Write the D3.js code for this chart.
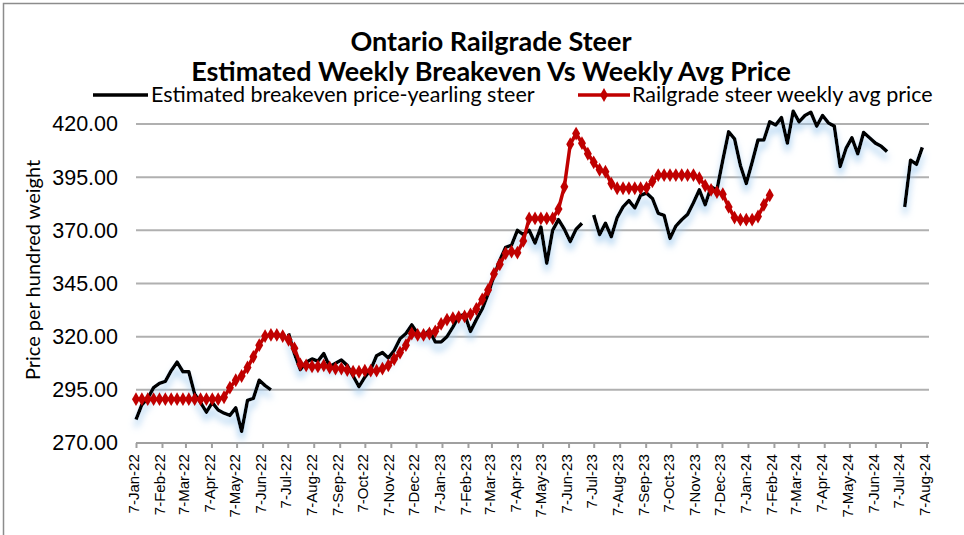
<!DOCTYPE html>
<html>
<head>
<meta charset="utf-8">
<script src="https://cdn.jsdelivr.net/npm/d3@7"></script>
<style>
  body { margin: 0; background: #fff; }
  svg { font-family: Lato, "Open Sans", sans-serif; }
  .grid line { stroke: #b0b0b0; stroke-width: 2; }
  .ylab text { font-size: 21.5px; fill: #000; }
  .xaxis text { font-size: 15px; fill: #000; }
  .xaxis path, .xaxis line { stroke: #a0a0a0; stroke-width: 2; }
</style>
</head>
<body>
<svg id="chart" width="964" height="535"></svg>
<script>
// weekly series, first week = 7-Jan-22
const firstWeek = new Date(2022, 0, 7);

// Estimated breakeven price - yearling steer (null = no value)
const breakeven = [
  281, 288, 291, 296, 298, 299, 304, 308, 303.5, 303.5,
  293, 289, 284.5, 289, 285.5, 284, 283, 286.5, 275.5, 290,
  291, 299.5, 297, 295, null, null, 321.5, 312, 304.5, 308,
  309.5, 308.5, 312, 306, 307.5, 309, 306.5, 301.5, 296.5, 301,
  304.5, 311, 312.5, 310, 313.5, 319, 321.5, 325.5, 321.5, 320.5,
  323, 317.5, 317.5, 320, 324.5, 329.5, 330.5, 322.5, 328, 333,
  340, 348.5, 356, 362, 363, 370, 368, 370, 364, 371.5,
  354.5, 370, 375, 370.5, 364.7, 370.5, 373.3, null, 377.2, 368,
  373.3, 367, 376, 381, 384, 380.5, 386.5, 387.5, 385, 378,
  377, 366.2, 372, 375, 377.5, 383, 389, 382, 390.5, 389,
  403, 416.3, 413, 400.5, 392, 402, 412.5, 412.5, 421, 419.5,
  423, 411, 426, 421, 424, 425.5, 419, 424, 420.5, 419,
  400, 408.5, 413.5, 406, 416, 413.5, 411, 409.5, 407, null,
  null, 381, 403, 401, 409
];

// Railgrade steer weekly avg price
const weeklyAvg = [
  290.6, 290.6, 290.6, 290.6, 290.6, 290.6, 290.6, 290.6, 290.6, 290.6,
  290.6, 290.6, 290.6, 290.6, 290.6, 291.5, 296, 299.5, 301.5, 305.5,
  310.5, 316, 320.3, 320.8, 320.8, 320.3, 318.5, 314.5, 307, 306.5,
  306, 306, 306.5, 305.5, 305, 305, 304.3, 303.5, 303.5, 304,
  304, 304, 305, 306.5, 309.5, 312.5, 316, 321.5, 320.8, 320.8,
  321.5, 322.5, 326, 328, 328.7, 329.2, 329.5, 330.5, 333, 337.5,
  342, 349.5, 354, 359.2, 360, 359.5, 365, 375.6, 375.6, 375.6,
  375.6, 375.6, 380, 390.5, 410.5, 415.5, 411, 406, 402, 398.5,
  397.6, 392, 389.8, 389.8, 389.8, 389.8, 389.8, 390, 393, 396,
  396, 396, 396, 396, 396, 396, 394.5, 391, 389, 388,
  387, 381, 376, 375, 375, 375, 376.5, 382, 386.5
];

const yTicks = [270, 295, 320, 345, 370, 395, 420];
const titleLines = ["Ontario Railgrade Steer", "Estimated Weekly Breakeven Vs Weekly Avg Price"];
const seriesNames = ["Estimated breakeven price-yearling steer", "Railgrade steer weekly avg price"];
const yTitle = "Price per hundred weight";

const weekDate = i => d3.timeDay.offset(firstWeek, 7 * i);
const toPoints = arr => arr.map((v, i) => ({ date: weekDate(i), value: v }));
const blackData = toPoints(breakeven);
const redData = toPoints(weeklyAvg);

const svg = d3.select("#chart");

// outer frame
svg.append("rect")
    .attr("x", 3.5).attr("y", 3.5)
    .attr("width", 990).attr("height", 560)
    .attr("fill", "none")
    .attr("stroke", "#8c8c8c")
    .attr("stroke-width", 1.5);

// scales
let x = d3.scaleTime()
    .domain([new Date(2022, 0, 7), new Date(2024, 7, 7)])
    .range([136, 926.5]);
let y = d3.scaleLinear()
    .domain([270, 420])
    .range([443, 124]);

// gridlines
svg.append("g")
    .attr("class", "grid")
    .selectAll("line")
    .data(yTicks.slice(1))
    .enter().append("line")
    .attr("x1", 136).attr("x2", 929)
    .attr("y1", d => y(d)).attr("y2", d => y(d));

// y labels
svg.append("g")
    .attr("class", "ylab")
    .attr("transform", "translate(118,0)")
    .call(d3.axisLeft(y).tickValues(yTicks).tickFormat(d3.format(".2f")).tickSize(0).tickPadding(0))
    .call(g => g.select(".domain").remove());

// x axis with ticks on the 7th of each month
let tickDates = d3.timeMonth.range(new Date(2022, 0, 1), new Date(2024, 7, 2))
    .map(d => d3.timeDay.offset(d, 6));
let xAxis = svg.append("g")
    .attr("class", "xaxis")
    .attr("transform", "translate(0,443)")
    .call(d3.axisBottom(x).tickValues(tickDates).tickFormat(d3.timeFormat("%-d-%b-%y")).tickSize(5).tickSizeOuter(0));
xAxis.select(".domain").attr("d", "M136,0H929");
xAxis.selectAll("text")
    .style("text-anchor", "end")
    .attr("dx", "-0.75em")
    .attr("dy", "-0.35em")
    .attr("transform", "rotate(-90)");

// y axis title
svg.append("text")
    .attr("transform", "rotate(-90)")
    .attr("x", -270)
    .attr("y", 40)
    .attr("text-anchor", "middle")
    .style("font-size", "20px")
    .text(yTitle);

// title
svg.selectAll(".title")
    .data(titleLines)
    .enter().append("text")
    .attr("class", "title")
    .attr("x", 491)
    .attr("y", (d, i) => 51 + i * 30)
    .attr("text-anchor", "middle")
    .style("font-size", "27px")
    .style("font-weight", "bold")
    .text(d => d);

// glow under breakeven line
let defs = svg.append("defs");
let glow = defs.append("filter").attr("id", "glow")
    .attr("x", "-5%").attr("y", "-20%").attr("width", "110%").attr("height", "140%");
glow.append("feGaussianBlur").attr("in", "SourceAlpha").attr("stdDeviation", 3.5).attr("result", "blur");
glow.append("feOffset").attr("in", "blur").attr("dx", 0).attr("dy", 7).attr("result", "off");
glow.append("feFlood").attr("flood-color", "#9cc8ee").attr("flood-opacity", 0.9);
glow.append("feComposite").attr("in2", "off").attr("operator", "in").attr("result", "shadow");
let merge = glow.append("feMerge");
merge.append("feMergeNode").attr("in", "shadow");
merge.append("feMergeNode").attr("in", "SourceGraphic");

let line = d3.line()
    .defined(d => d.value != null)
    .x(d => x(d.date))
    .y(d => y(d.value));

svg.append("path")
    .datum(blackData)
    .attr("fill", "none")
    .attr("stroke", "#000")
    .attr("stroke-width", 3.5)
    .attr("stroke-linejoin", "round")
    .attr("filter", "url(#glow)")
    .attr("d", line);

svg.append("path")
    .datum(redData)
    .attr("fill", "none")
    .attr("stroke", "#c00000")
    .attr("stroke-width", 3.5)
    .attr("d", line);

let diamond = d3.symbol().type(d3.symbolDiamond).size(55);
svg.selectAll(".dot")
    .data(redData)
    .enter().append("path")
    .attr("class", "dot")
    .attr("fill", "#c00000")
    .attr("d", diamond)
    .attr("transform", d => "translate(" + x(d.date) + "," + y(d.value) + ")");

// legend
let legend = svg.append("g").style("font-size", "21.5px");
legend.append("line")
    .attr("x1", 93).attr("x2", 148).attr("y1", 95).attr("y2", 95)
    .attr("stroke", "#000").attr("stroke-width", 3.5);
legend.append("text").attr("x", 151).attr("y", 102).text(seriesNames[0]);
legend.append("line")
    .attr("x1", 578).attr("x2", 630).attr("y1", 95).attr("y2", 95)
    .attr("stroke", "#c00000").attr("stroke-width", 3.5);
legend.append("path")
    .attr("fill", "#c00000")
    .attr("d", diamond)
    .attr("transform", "translate(604,95)");
legend.append("text").attr("x", 632).attr("y", 102).text(seriesNames[1]);
</script>
</body>
</html>
